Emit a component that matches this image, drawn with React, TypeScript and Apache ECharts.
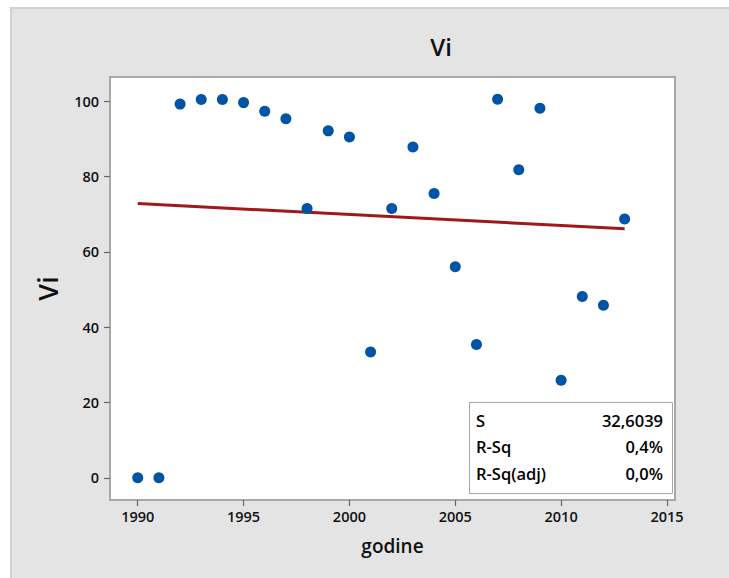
import React, { useEffect, useRef } from "react";
import * as echarts from "echarts";

const years = [1990, 1991, 1992, 1993, 1994, 1995, 1996, 1997, 1998, 1999, 2000, 2001, 2002, 2003, 2004, 2005, 2006, 2007, 2008, 2009, 2010, 2011, 2012, 2013];
const viValues = [0, 0, 99.2, 100.4, 100.4, 99.6, 97.3, 95.3, 71.5, 92.1, 90.5, 33.4, 71.5, 87.8, 75.5, 56.0, 35.4, 100.5, 81.8, 98.1, 25.9, 48.1, 45.8, 68.7];
const fitYears = [1990, 2013];
const fitValues = [72.8, 66.1];
const xTicks = [1990, 1995, 2000, 2005, 2010, 2015];
const yTicks = [0, 20, 40, 60, 80, 100];
const statLabels = ["S", "R-Sq", "R-Sq(adj)"];
const statValues = ["32,6039", "0,4%", "0,0%"];

const FONT = "'Open Sans', 'Noto Sans', sans-serif";

export default function App() {
  const ref = useRef<HTMLDivElement>(null);
  useEffect(() => {
    if (!ref.current) return;
    const chart = echarts.init(ref.current, null, { renderer: "svg" });
    const statTexts: any[] = [];
    statLabels.forEach((l, i) => {
      statTexts.push({
        type: "text",
        x: 476,
        y: 420 + i * 26.5,
        z: 20,
        style: { text: l, align: "left", verticalAlign: "middle", fill: "#000000", font: `600 16.5px ${FONT}` },
      });
      statTexts.push({
        type: "text",
        x: 663,
        y: 420 + i * 26.5,
        z: 20,
        style: { text: statValues[i], align: "right", verticalAlign: "middle", fill: "#000000", font: `600 16.5px ${FONT}` },
      });
    });
    const labelStyle = {
      color: "#111111",
      fontSize: 14.5,
      fontWeight: 600,
      fontFamily: FONT,
      formatter: (v: number) => String(v),
    };
    const tickStyle = { color: "#666666", width: 1.2 };
    chart.setOption({
      animation: false,
      graphic: [
        {
          type: "rect",
          z: -10,
          shape: { x: 11, y: 8, width: 730, height: 580 },
          style: { fill: "#e4e4e4", stroke: "#d0d0d0", lineWidth: 2 },
        },
        {
          type: "text",
          x: 441,
          y: 46,
          style: { text: "Vi", align: "center", verticalAlign: "middle", fill: "#111", font: `600 24px ${FONT}` },
        },
        {
          type: "text",
          x: 47.5,
          y: 288.5,
          rotation: Math.PI / 2,
          style: { text: "Vi", align: "center", verticalAlign: "middle", fill: "#111", font: `600 27px ${FONT}` },
        },
        {
          type: "text",
          x: 392.5,
          y: 546,
          style: { text: "godine", align: "center", verticalAlign: "middle", fill: "#111", font: `600 19px ${FONT}` },
        },
        {
          type: "rect",
          z: 19,
          shape: { x: 469.5, y: 402.5, width: 203, height: 91 },
          style: { fill: "#ffffff", stroke: "#a6a6a6", lineWidth: 1 },
        },
        ...statTexts,
      ],
      grid: {
        left: 110,
        top: 77,
        right: 54,
        bottom: 78,
        show: true,
        backgroundColor: "#ffffff",
        borderColor: "#a8a8a8",
        borderWidth: 2,
      },
      xAxis: {
        type: "value",
        min: 1988.69,
        max: 2015.38,
        splitLine: { show: false },
        axisLine: { show: false, onZero: false },
        axisTick: { show: true, customValues: xTicks, length: 6, lineStyle: tickStyle },
        axisLabel: { ...labelStyle, customValues: xTicks, margin: 9 },
      },
      yAxis: {
        type: "value",
        min: -5.9,
        max: 106.4,
        splitLine: { show: false },
        axisLine: { show: false, onZero: false },
        axisTick: { show: true, customValues: yTicks, length: 6, lineStyle: tickStyle },
        axisLabel: { ...labelStyle, customValues: yTicks, margin: 11 },
      },
      series: [
        {
          type: "line",
          data: fitYears.map((x, i) => [x, fitValues[i]]),
          symbol: "none",
          lineStyle: { color: "#a01818", width: 3 },
          z: 2,
          silent: true,
        },
        {
          type: "scatter",
          data: years.map((x, i) => [x, viValues[i]]),
          symbol: "circle",
          symbolSize: 11,
          itemStyle: { color: "#0054a6", opacity: 1 },
          z: 3,
        },
      ],
    });
    return () => chart.dispose();
  }, []);
  return (
    <div
      ref={ref}
      style={{ position: "absolute", left: 0, top: 0, width: 729, height: 578, background: "#ffffff" }}
    />
  );
}
